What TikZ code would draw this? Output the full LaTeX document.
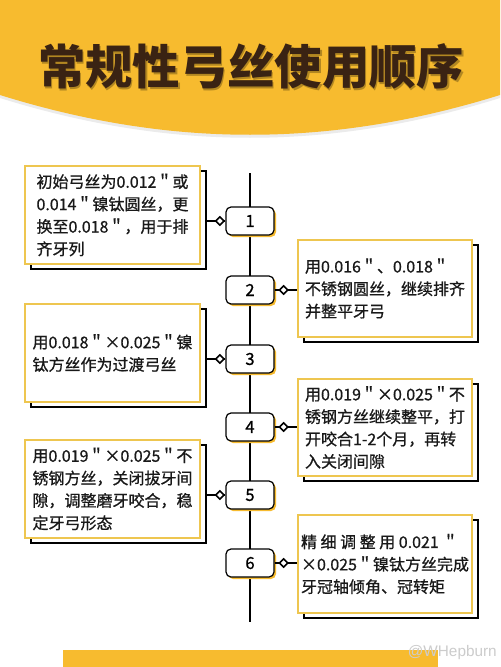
\documentclass[tikz,border=0pt]{standalone}
\usepackage{fontspec}
\newfontfamily\cjk{Noto Sans CJK SC}
\newfontfamily\cjkmed[FakeBold=0.8]{Noto Sans CJK SC}
\newfontfamily\wmfont{Liberation Sans}
\usetikzlibrary{arrows.meta,calc}
\definecolor{gold}{HTML}{F7BB2F}
\definecolor{boxline}{HTML}{EEC650}
\definecolor{titlec}{HTML}{3A2313}
\tikzset{
  textbox/.style={draw=boxline, line width=1.5pt, fill=white,
    minimum width=131pt, minimum height=73pt, inner sep=0pt,
    align=left, font=\cjkmed\fontsize{12}{16.8}\selectfont, text=black!90},
  frame/.style={draw=black, line width=1.5pt, fill=white,
    minimum width=131pt, minimum height=73pt, inner sep=0pt},
  numbox/.style={draw=black, line width=0.9pt, fill=white, rounded corners=3.75pt,
    minimum width=36pt, minimum height=21pt, inner sep=0pt,
    font=\cjkmed\fontsize{12.5}{14}\selectfont},
  numshadow/.style={fill=gold, rounded corners=3.75pt,
    minimum width=36pt, minimum height=21pt, inner sep=0pt},
  link/.style={line width=1.2pt, draw=black},
  diam/.style={draw=black, line width=1.2pt, fill=white, rotate=45,
    minimum size=4.3pt, inner sep=0pt, outer sep=0pt},
}
\begin{document}
\begin{tikzpicture}[x=0.75pt,y=-0.75pt]
\useasboundingbox (0,0) rectangle (500,667);
\fill[white] (0,0) rectangle (500,667);
% header
\fill[black!8] (0,98) .. controls (170,151) and (330,151) .. (500,98) -- (500,0) -- (0,0) -- cycle;
\fill[gold] (0,95) .. controls (170,148) and (330,148) .. (500,95) -- (500,0) -- (0,0) -- cycle;
\node[font=\cjk\bfseries\fontsize{35.5}{40}\selectfont, text=black!55!gold, opacity=0.5] at (252.5,68.5) {常规性弓丝使用顺序};
\node[font=\cjk\bfseries\fontsize{35.5}{40}\selectfont, text=titlec] (title) at (251,66.5) {常规性弓丝使用顺序};
% spine
\coordinate (top) at (250,173);
\coordinate (bot) at (250,622);
\draw[line width=1pt] (top) -- (bot);
% number boxes
\foreach \i/\y in {1/221,2/290,3/359,4/427,5/495,6/563}{
  \node[numshadow] at (252,\y+2) {};
  \node[numbox] (n\i) at (250,\y) {\i};
}
% left boxes
\node[frame] (s1) at (118.5,220) {};
\node[textbox] (b1) at (112.5,215) {初始弓丝为0.012＂或\\0.014＂镍钛圆丝，更\\换至0.018＂，用于排\\齐牙列};
\node[frame] (s3) at (118.5,358) {};
\node[textbox] (b3) at (112.5,353) {用0.018＂×0.025＂镍\\钛方丝作为过渡弓丝};
\node[frame] (s5) at (118.5,494) {};
\node[textbox] (b5) at (112.5,489) {用0.019＂×0.025＂不\\锈钢方丝，关闭拔牙间\\隙，调整磨牙咬合，稳\\定牙弓形态};
% right boxes
\node[frame] (s2) at (391,293.5) {};
\node[textbox] (b2) at (385,288.5) {用0.016＂、0.018＂\\不锈钢圆丝，继续排齐\\并整平牙弓};
\node[frame] (s4) at (391,432.5) {};
\node[textbox] (b4) at (385,427.5) {用0.019＂×0.025＂不\\锈钢方丝继续整平，打\\开咬合1-2个月，再转\\入关闭间隙};
\node[frame] (s6) at (391,569) {};
\node[textbox] (b6) at (385,564) {\makebox[118pt][s]{精 细 调 整 用 0.021 ＂}\\×0.025＂镍钛方丝完成\\牙冠轴倾角、冠转矩};
% connectors
\foreach \i in {1,3,5}{
  \draw[link] (n\i.west) -- (n\i.west -| s\i.east);
  \node[diam] (d\i) at ($(n\i.west)+(-5.5,0)$) {};
}
\foreach \i in {2,4,6}{
  \draw[link] (n\i.east) -- (n\i.east -| b\i.west);
  \node[diam] (d\i) at ($(n\i.east)+(9,0)$) {};
}
% bottom bar
\fill[gold] (63,650) rectangle (438,667);
\node[font=\wmfont\fontsize{11.5}{13}\selectfont, text=black!20, anchor=east, inner sep=0pt] (wm) at (497,653) {@WHepburn};
\end{tikzpicture}
\end{document}
